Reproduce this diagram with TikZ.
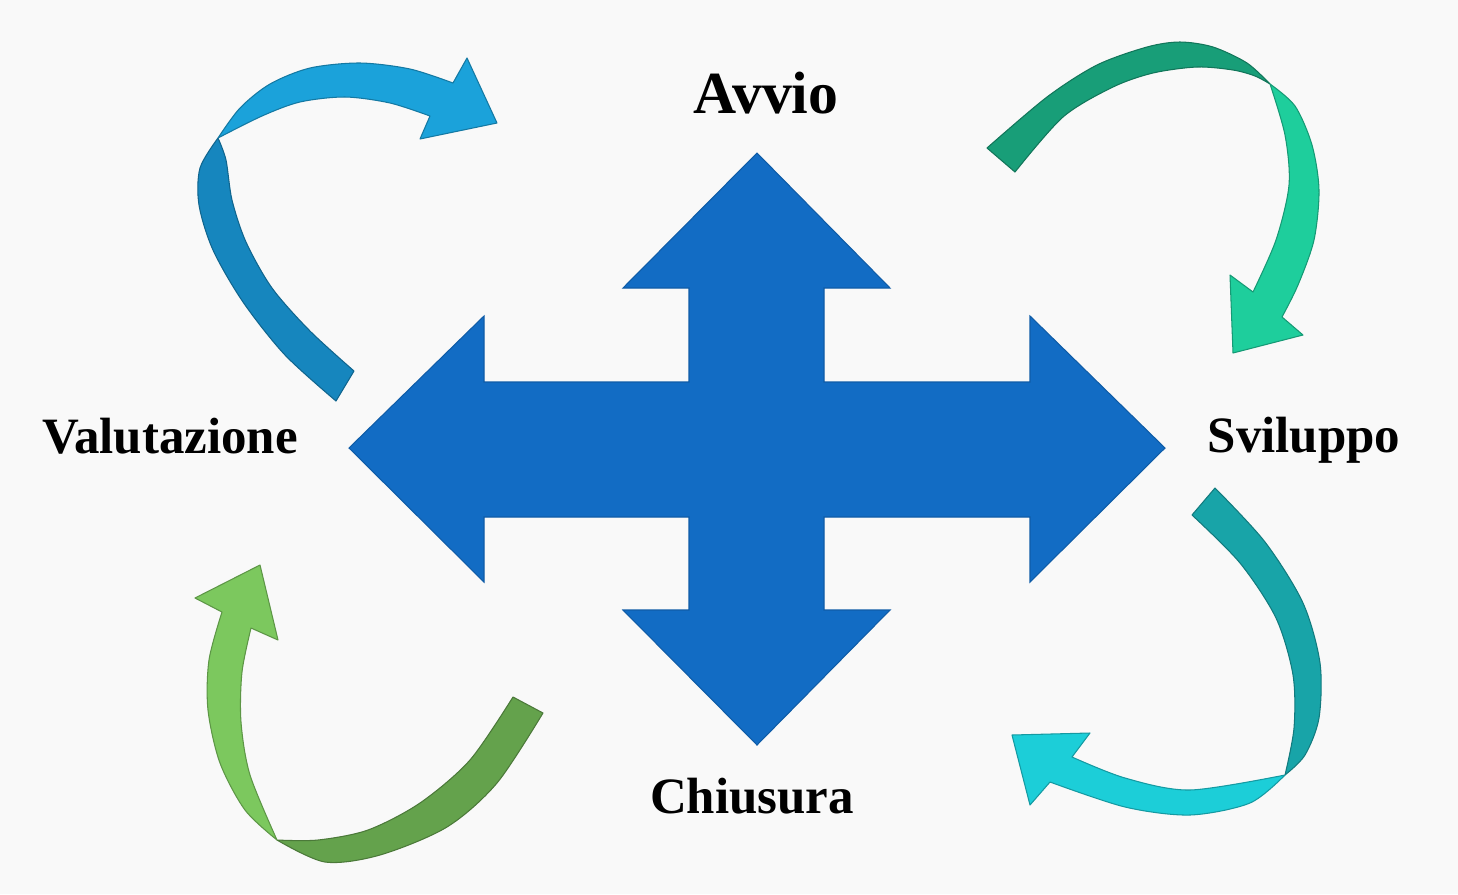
\documentclass[tikz,border=0pt]{standalone}
\usepackage{fontspec}
\setmainfont{Liberation Serif}

\definecolor{paper}{RGB}{249,249,249}
\definecolor{crossblue}{RGB}{18,108,196}
\definecolor{tlblue}{RGB}{22,134,190}
\definecolor{tlsky}{RGB}{27,162,218}
\definecolor{trgreen}{RGB}{24,158,120}
\definecolor{trmint}{RGB}{30,206,156}
\definecolor{blgreen}{RGB}{100,162,76}
\definecolor{bllime}{RGB}{124,200,94}
\definecolor{brteal}{RGB}{24,164,168}
\definecolor{brcyan}{RGB}{28,206,216}

\tikzset{
	ribbon/.style={fill=#1, draw=#1!75!black, line width=0.6pt, line join=round},
	phase/.style={font=\fontsize{29}{34}\selectfont\bfseries, anchor=base, inner sep=0pt}
}

\begin{document}
\begin{tikzpicture}[x=0.02cm, y=-0.02cm]
	\useasboundingbox (0,0) rectangle (1458,894);
	\fill [paper] (0,0) rectangle (1458,894);

	\draw [fill=crossblue, draw=crossblue!85!black, line width=0.6pt] (757,153) -- (890,288) -- (824,288) -- (824,382) -- (1030,382) -- (1030,316) -- (1165,448) -- (1030,582) -- (1030,517) -- (824,517) -- (824,610) -- (890,610) -- (757,745) -- (623,610) -- (689,610) -- (689,517) -- (484,517) -- (484,582) -- (349,448) -- (484,316) -- (484,382) -- (689,382) -- (689,288) -- (623,288) -- cycle;

	\draw [ribbon=tlblue] plot [smooth] coordinates {(336,401) (285,355) (243,302) (213,250) (199,205) (200,168) (218,138)} -- plot [smooth] coordinates {(218,138) (226,160) (232,200) (246,242) (272,288) (310,331) (354,371)} -- cycle;
	\draw [ribbon=tlsky] plot [smooth] coordinates {(218,138) (240,108) (270,84) (310,68) (360,63) (410,69) (453,83)} -- (467,58) -- (497,123) -- (420,139) -- plot [smooth] coordinates {(430,116) (390,103) (345,97) (300,102) (262,116) (218,138)} -- cycle;

	\draw [ribbon=trgreen] plot [smooth] coordinates {(987,148) (1047,97) (1097,65) (1147,47) (1180,42) (1213,47) (1247,63) (1270,84)} -- plot [smooth] coordinates {(1270,84) (1255,76) (1233,70) (1197,67) (1153,73) (1113,87) (1063,117) (1015,172)} -- cycle;
	\draw [ribbon=trmint] plot [smooth] coordinates {(1270,84) (1295,106) (1312,145) (1319,190) (1314,240) (1298,285) (1282,317)} -- (1303,335) -- (1233,353) -- (1230,275) -- plot [smooth] coordinates {(1253,292) (1276,240) (1289,185) (1285,135) (1270,84)} -- cycle;

	\draw [ribbon=blgreen] plot [smooth] coordinates {(543,713) (497,783) (447,827) (380,855) (325,862) (277,840)} -- plot [smooth] coordinates {(277,840) (318,840) (368,830) (420,803) (470,760) (513,697)} -- cycle;
	\draw [ribbon=bllime] plot [smooth] coordinates {(277,840) (245,810) (220,763) (208,710) (209,660) (222,612)} -- (195,598) -- (260,565) -- (278,640) -- plot [smooth] coordinates {(251,628) (242,672) (241,722) (250,775) (277,840)} -- cycle;

	\draw [ribbon=brteal] plot [smooth] coordinates {(1215,488) (1265,542) (1303,603) (1320,663) (1319,718) (1305,755) (1285,775)} -- plot [smooth] coordinates {(1285,775) (1294,728) (1293,675) (1276,618) (1240,563) (1192,515)} -- cycle;
	\draw [ribbon=brcyan] plot [smooth] coordinates {(1285,775) (1250,803) (1190,815) (1125,807) (1050,782)} -- (1030,805) -- (1012,735) -- (1090,733) -- plot [smooth] coordinates {(1072,757) (1125,778) (1190,790) (1285,775)} -- cycle;

	\node [phase, font=\fontsize{34}{40}\selectfont\bfseries] (avvio) at (766,113) {Avvio};
	\node [phase] (valutazione) at (170,453) {Valutazione};
	\node [phase] (sviluppo) at (1304,452) {Sviluppo};
	\node [phase] (chiusura) at (752,813) {Chiusura};
\end{tikzpicture}
\end{document}
